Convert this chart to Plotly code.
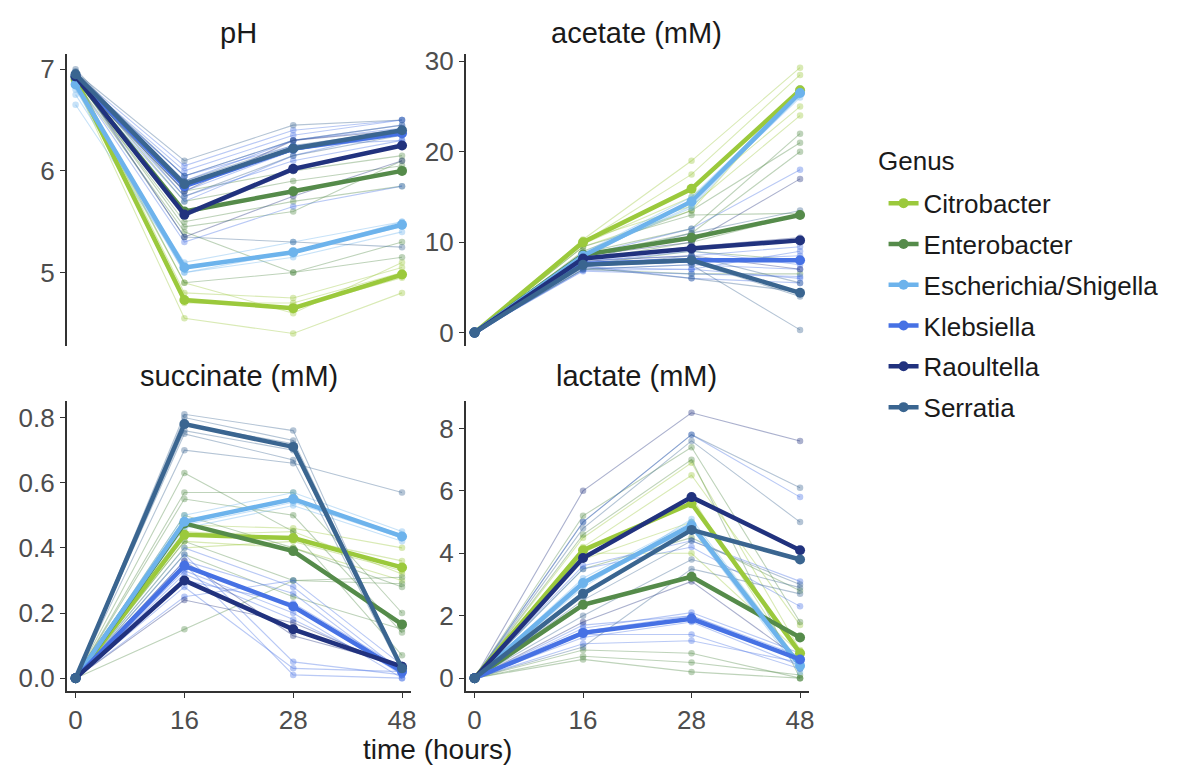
import plotly.graph_objects as go

# ---------------- data ----------------
times = ["0", "16", "28", "48"]
genera = ["Citrobacter", "Enterobacter", "Escherichia/Shigella", "Klebsiella", "Raoultella", "Serratia"]
colors = ["#9bc93c", "#558b4a", "#6db3ec", "#4671e4", "#21327e", "#3a6590"]

# genus index of each isolate (thin lines)
isolate_genus = [0]*5 + [1]*7 + [2]*4 + [3]*10 + [4]*3 + [5]*6

ph_iso = [
    [6.85, 4.55, 4.40, 4.80], [6.90, 4.70, 4.70, 5.00], [6.95, 4.80, 4.75, 5.05],
    [6.88, 4.90, 4.60, 5.10], [6.92, 4.72, 4.65, 4.95],
    [6.90, 5.60, 5.80, 6.00], [6.92, 5.45, 5.60, 6.10], [6.95, 5.70, 5.90, 6.05],
    [6.88, 5.40, 5.00, 5.15], [6.90, 5.80, 6.00, 6.15], [6.93, 4.90, 5.00, 5.30],
    [6.90, 5.50, 5.70, 5.85],
    [6.65, 5.05, 5.20, 5.50], [6.80, 5.00, 5.15, 5.40], [6.75, 5.10, 5.30, 5.50],
    [6.85, 5.00, 5.20, 5.45],
    [6.95, 5.90, 6.30, 6.45], [6.93, 6.00, 6.35, 6.50], [6.90, 5.85, 6.20, 6.35],
    [6.92, 5.75, 6.10, 6.30], [6.95, 6.05, 6.40, 6.50], [6.90, 5.70, 6.15, 6.40],
    [6.93, 5.95, 6.25, 6.30], [6.88, 5.30, 5.65, 5.85], [6.95, 5.80, 6.20, 6.38],
    [6.92, 5.95, 6.30, 6.42],
    [6.93, 5.55, 6.00, 6.25], [6.95, 5.35, 5.75, 6.10], [6.90, 5.80, 6.30, 6.40],
    [6.95, 5.90, 6.25, 6.40], [7.00, 5.85, 6.20, 6.38], [6.97, 6.10, 6.45, 6.50],
    [6.93, 5.35, 5.30, 5.25], [6.95, 5.95, 6.30, 6.45], [6.98, 5.75, 6.15, 6.35],
]
acetate_iso = [
    [0, 10.3, 19.0, 29.3], [0, 10.0, 17.5, 28.5], [0, 9.8, 15.0, 25.0],
    [0, 10.2, 14.0, 24.0], [0, 9.5, 13.5, 27.0],
    [0, 9.0, 13.5, 21.0], [0, 8.5, 11.0, 20.0], [0, 8.0, 10.0, 13.0],
    [0, 9.5, 13.0, 13.2], [0, 7.5, 9.0, 8.0], [0, 8.8, 11.5, 22.0],
    [0, 7.0, 6.5, 6.5],
    [0, 8.5, 14.0, 27.0], [0, 8.8, 15.0, 26.5], [0, 8.2, 14.5, 26.0],
    [0, 8.6, 13.8, 26.8],
    [0, 7.0, 7.5, 7.0], [0, 7.5, 8.0, 8.5], [0, 7.2, 7.0, 6.0],
    [0, 8.0, 8.5, 9.5], [0, 6.8, 6.5, 6.2], [0, 7.8, 9.0, 7.5],
    [0, 7.4, 6.0, 5.5], [0, 8.5, 11.5, 18.0], [0, 7.6, 8.2, 8.0],
    [0, 6.9, 7.0, 9.0],
    [0, 8.2, 9.5, 10.5], [0, 8.5, 10.0, 17.0], [0, 7.9, 8.5, 7.0],
    [0, 7.5, 8.0, 4.4], [0, 7.0, 7.5, 0.3], [0, 7.3, 8.5, 5.5],
    [0, 8.0, 11.0, 13.5], [0, 7.6, 7.8, 4.0], [0, 7.2, 6.0, 4.5],
]
succinate_iso = [
    [0, 0.47, 0.46, 0.40], [0, 0.45, 0.43, 0.36], [0, 0.42, 0.40, 0.30],
    [0, 0.44, 0.45, 0.32], [0, 0.40, 0.42, 0.33],
    [0, 0.57, 0.57, 0.20], [0, 0.55, 0.50, 0.14], [0, 0.63, 0.45, 0.07],
    [0, 0.42, 0.30, 0.29], [0, 0.38, 0.25, 0.15], [0, 0.50, 0.40, 0.28],
    [0, 0.15, 0.30, 0.31],
    [0, 0.48, 0.55, 0.44], [0, 0.50, 0.57, 0.45], [0, 0.46, 0.53, 0.42],
    [0, 0.47, 0.54, 0.43],
    [0, 0.36, 0.26, 0.01], [0, 0.40, 0.28, 0.02], [0, 0.33, 0.20, 0.00],
    [0, 0.30, 0.23, 0.03], [0, 0.38, 0.05, 0.01], [0, 0.35, 0.01, 0.00],
    [0, 0.28, 0.03, 0.02], [0, 0.25, 0.30, 0.04], [0, 0.34, 0.22, 0.01],
    [0, 0.32, 0.18, 0.02],
    [0, 0.30, 0.15, 0.04], [0, 0.24, 0.17, 0.03], [0, 0.36, 0.13, 0.04],
    [0, 0.80, 0.73, 0.03], [0, 0.81, 0.76, 0.02], [0, 0.76, 0.70, 0.04],
    [0, 0.70, 0.66, 0.57], [0, 0.78, 0.72, 0.03], [0, 0.75, 0.67, 0.02],
]
lactate_iso = [
    [0, 4.5, 6.9, 0.9], [0, 4.2, 6.5, 1.7], [0, 3.8, 5.0, 0.5],
    [0, 4.0, 5.8, 0.3], [0, 4.0, 4.0, 0.8],
    [0, 5.2, 7.4, 1.8], [0, 4.6, 7.0, 0.0], [0, 0.9, 0.8, 0.0],
    [0, 0.6, 0.2, 0.0], [0, 2.3, 3.3, 1.3], [0, 0.7, 0.5, 0.1],
    [0, 3.5, 4.5, 2.8],
    [0, 3.2, 5.0, 0.4], [0, 3.0, 4.8, 0.3], [0, 2.9, 5.1, 0.5],
    [0, 3.1, 4.8, 0.2],
    [0, 1.5, 2.0, 0.6], [0, 1.6, 2.1, 0.8], [0, 1.3, 1.8, 0.4],
    [0, 1.4, 1.4, 0.3], [0, 1.1, 1.2, 0.5], [0, 1.7, 2.0, 0.7],
    [0, 5.0, 7.8, 5.8], [0, 3.6, 4.4, 3.1], [0, 3.5, 4.2, 2.3],
    [0, 1.5, 1.9, 0.6],
    [0, 3.9, 5.8, 4.1], [0, 6.0, 8.5, 7.6], [0, 1.8, 3.1, 0.6],
    [0, 2.7, 4.7, 3.8], [0, 5.0, 7.8, 6.1], [0, 2.5, 4.4, 3.0],
    [0, 4.8, 7.6, 5.0], [0, 2.0, 3.8, 2.9], [0, 1.0, 3.5, 2.7],
]

# genus means (thick lines), in genus order
ph_mean = [
    [6.90, 4.73, 4.65, 4.98], [6.92, 5.60, 5.80, 6.00], [6.85, 5.05, 5.20, 5.47],
    [6.93, 5.85, 6.22, 6.37], [6.93, 5.57, 6.02, 6.25], [6.95, 5.87, 6.22, 6.40],
]
acetate_mean = [
    [0, 10.0, 15.9, 26.8], [0, 8.6, 10.5, 13.0], [0, 8.5, 14.5, 26.5],
    [0, 7.6, 8.0, 8.0], [0, 8.2, 9.3, 10.2], [0, 7.5, 8.0, 4.4],
]
succinate_mean = [
    [0, 0.44, 0.43, 0.34], [0, 0.475, 0.39, 0.165], [0, 0.48, 0.55, 0.435],
    [0, 0.345, 0.22, 0.02], [0, 0.30, 0.15, 0.035], [0, 0.78, 0.71, 0.03],
]
lactate_mean = [
    [0, 4.1, 5.6, 0.8], [0, 2.35, 3.25, 1.3], [0, 3.05, 4.9, 0.4],
    [0, 1.45, 1.9, 0.6], [0, 3.85, 5.8, 4.1], [0, 2.7, 4.75, 3.8],
]

panel_titles = ["pH", "acetate (mM)", "succinate (mM)", "lactate (mM)"]
ph_ticks = [5, 6, 7]
acetate_ticks = [0, 10, 20, 30]
succinate_ticks = [0.0, 0.2, 0.4, 0.6, 0.8]
lactate_ticks = [0, 2, 4, 6, 8]

# ---------------- figure ----------------
W, H = 1200, 767
FONT = "Liberation Sans, Arial, Helvetica, sans-serif"


def hex_rgba(h, a):
    h = h.lstrip("#")
    return "rgba(%d,%d,%d,%.2f)" % (int(h[0:2], 16), int(h[2:4], 16), int(h[4:6], 16), a)


fig = go.Figure()

panels = [
    ("x", "y", ph_iso, ph_mean),
    ("x2", "y2", acetate_iso, acetate_mean),
    ("x3", "y3", succinate_iso, succinate_mean),
    ("x4", "y4", lactate_iso, lactate_mean),
]

for xa, ya, iso, means in panels:
    for gi, vals in zip(isolate_genus, iso):
        c = colors[gi]
        fig.add_trace(go.Scatter(
            x=times, y=vals, xaxis=xa, yaxis=ya, mode="lines+markers",
            line=dict(color=hex_rgba(c, 0.38), width=1.1),
            marker=dict(color=hex_rgba(c, 0.38), size=6.5),
            showlegend=False, hoverinfo="skip", legendgroup=genera[gi]))
for pi, (xa, ya, iso, means) in enumerate(panels):
    for gi, vals in enumerate(means):
        fig.add_trace(go.Scatter(
            x=times, y=vals, xaxis=xa, yaxis=ya, mode="lines+markers",
            line=dict(color=colors[gi], width=4.5),
            marker=dict(color=colors[gi], size=10),
            name=genera[gi], legendgroup=genera[gi], showlegend=(pi == 0)))


def px_x(p):
    return p / W


def px_y(p):
    return 1 - p / H


xdom_left = [px_x(67), px_x(413)]
xdom_right = [px_x(468), px_x(813)]
ydom_top = [px_y(342), px_y(47)]
ydom_bot = [px_y(692), px_y(398)]

tickfont = dict(family=FONT, size=26, color="#4d4d4d")
xr = [-0.082, 3.082]

common_x = dict(type="category", categoryarray=times, range=xr, showgrid=False,
                zeroline=False, tickfont=tickfont, linecolor="#333333", linewidth=1.5,
                ticks="outside", ticklen=5, tickcolor="#333333", tickwidth=1.2)
common_y = dict(showgrid=False, zeroline=False, tickfont=tickfont, showline=True,
                linecolor="#333333", linewidth=1.5, ticks="outside", ticklen=5,
                tickcolor="#333333", tickwidth=1.2)

fig.update_layout(
    xaxis=dict(common_x, domain=xdom_left, anchor="y", showline=False,
               showticklabels=False, ticks=""),
    yaxis=dict(common_y, domain=ydom_top, anchor="x", range=[4.282, 7.146],
               tickvals=ph_ticks, ticktext=[str(v) for v in ph_ticks]),
    xaxis2=dict(common_x, domain=xdom_right, anchor="y2", showline=False,
                showticklabels=False, ticks=""),
    yaxis2=dict(common_y, domain=ydom_top, anchor="x2", range=[-1.43, 30.77],
                tickvals=acetate_ticks, ticktext=[str(v) for v in acetate_ticks]),
    xaxis3=dict(common_x, domain=xdom_left, anchor="y3", showline=True),
    yaxis3=dict(common_y, domain=ydom_bot, anchor="x3", range=[-0.0394, 0.8515],
                tickvals=succinate_ticks, ticktext=["%.1f" % v for v in succinate_ticks]),
    xaxis4=dict(common_x, domain=xdom_right, anchor="y4", showline=True),
    yaxis4=dict(common_y, domain=ydom_bot, anchor="x4", range=[-0.411, 8.885],
                tickvals=lactate_ticks, ticktext=[str(v) for v in lactate_ticks]),
)

annotations = []
title_pos = [(240, 25), (640, 25), (240, 373), (640, 373)]
for t, (cx, cy) in zip(panel_titles, title_pos):
    annotations.append(dict(text=t, x=px_x(cx), y=px_y(cy), xref="paper", yref="paper",
                            showarrow=False, xanchor="center", yanchor="middle",
                            font=dict(family=FONT, size=29, color="#1a1a1a")))
annotations.append(dict(text="time (hours)", x=px_x(440), y=px_y(751), xref="paper",
                        yref="paper", showarrow=False, xanchor="center", yanchor="middle",
                        font=dict(family=FONT, size=28, color="#1a1a1a")))
annotations.append(dict(text="Genus", x=px_x(880), y=px_y(155), xref="paper",
                        yref="paper", showarrow=False, xanchor="left", yanchor="middle",
                        font=dict(family=FONT, size=26, color="#1a1a1a")))

fig.update_layout(
    width=W, height=H, margin=dict(l=0, r=0, t=0, b=0),
    paper_bgcolor="white", plot_bgcolor="white",
    annotations=annotations,
    font=dict(family=FONT),
    legend=dict(x=px_x(888), y=px_y(174), xanchor="left", yanchor="top",
                font=dict(family=FONT, size=26, color="#1a1a1a"),
                tracegroupgap=4, bgcolor="rgba(0,0,0,0)", itemwidth=30),
)

fig.write_html("out.html")
